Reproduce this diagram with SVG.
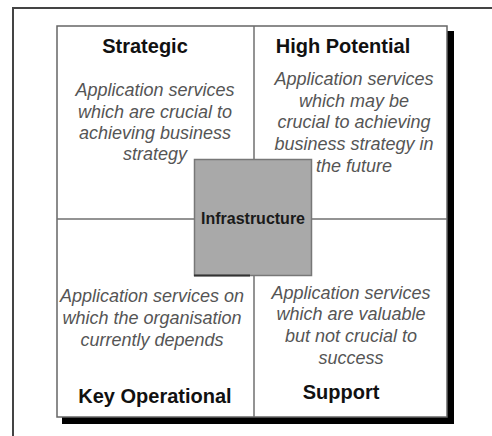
<svg xmlns="http://www.w3.org/2000/svg" width="492" height="436" viewBox="0 0 492 436">
<style>
.title{font-family:"Liberation Sans",Arial,sans-serif;font-weight:bold;font-size:20px;fill:#111;text-anchor:middle}
.desc{font-family:"Liberation Sans",Arial,sans-serif;font-style:italic;font-size:18px;fill:#555;text-anchor:middle}
.div{stroke:#6f6f6f;stroke-width:1.5;fill:none}
</style>
<rect x="0" y="0" width="492" height="436" fill="#fff"/>
<g id="frame">
<path d="M13,436 V8 H492" fill="none" stroke="#444" stroke-width="2"/>
</g>
<g id="matrix">
<rect x="62" y="31" width="392" height="393" fill="#000"/>
<rect x="57" y="26" width="390" height="391" fill="#fff" stroke="#666" stroke-width="1.5"/>
</g>
<g id="connectors">
<line class="div" x1="254" y1="26" x2="254" y2="417"/>
<line class="div" x1="57" y1="219" x2="447" y2="219"/>
</g>
<g id="strategic">
<text class="title" x="145" y="53">Strategic</text>
<text class="desc"><tspan x="155" y="96">Application services</tspan><tspan x="155" y="118">which are crucial to</tspan><tspan x="155" y="139">achieving business</tspan><tspan x="155" y="160">strategy</tspan></text>
</g>
<g id="high-potential">
<text class="title" x="343" y="53">High Potential</text>
<text class="desc"><tspan x="354" y="85">Application services</tspan><tspan x="354" y="107">which may be</tspan><tspan x="354" y="128">crucial to achieving</tspan><tspan x="354" y="150">business strategy in</tspan><tspan x="354" y="172">the future</tspan></text>
</g>
<g id="key-operational">
<text class="desc"><tspan x="152" y="302">Application services on</tspan><tspan x="152" y="324">which the organisation</tspan><tspan x="152" y="346">currently depends</tspan></text>
<text class="title" x="155" y="403">Key Operational</text>
</g>
<g id="support">
<text class="desc"><tspan x="351" y="299">Application services</tspan><tspan x="351" y="320">which are valuable</tspan><tspan x="351" y="342">but not crucial to</tspan><tspan x="351" y="364">success</tspan></text>
<text class="title" x="341" y="399">Support</text>
</g>
<g id="infrastructure">
<rect x="194.5" y="159.5" width="117" height="116" fill="#a9a9a9" stroke="#777" stroke-width="1.5"/>
<line x1="194" y1="275.5" x2="250" y2="275.5" stroke="#333" stroke-width="2"/>
<text x="253" y="224" font-family="'Liberation Sans',Arial,sans-serif" font-weight="bold" font-size="16" fill="#1a1a1a" text-anchor="middle">Infrastructure</text>
</g>
</svg>
